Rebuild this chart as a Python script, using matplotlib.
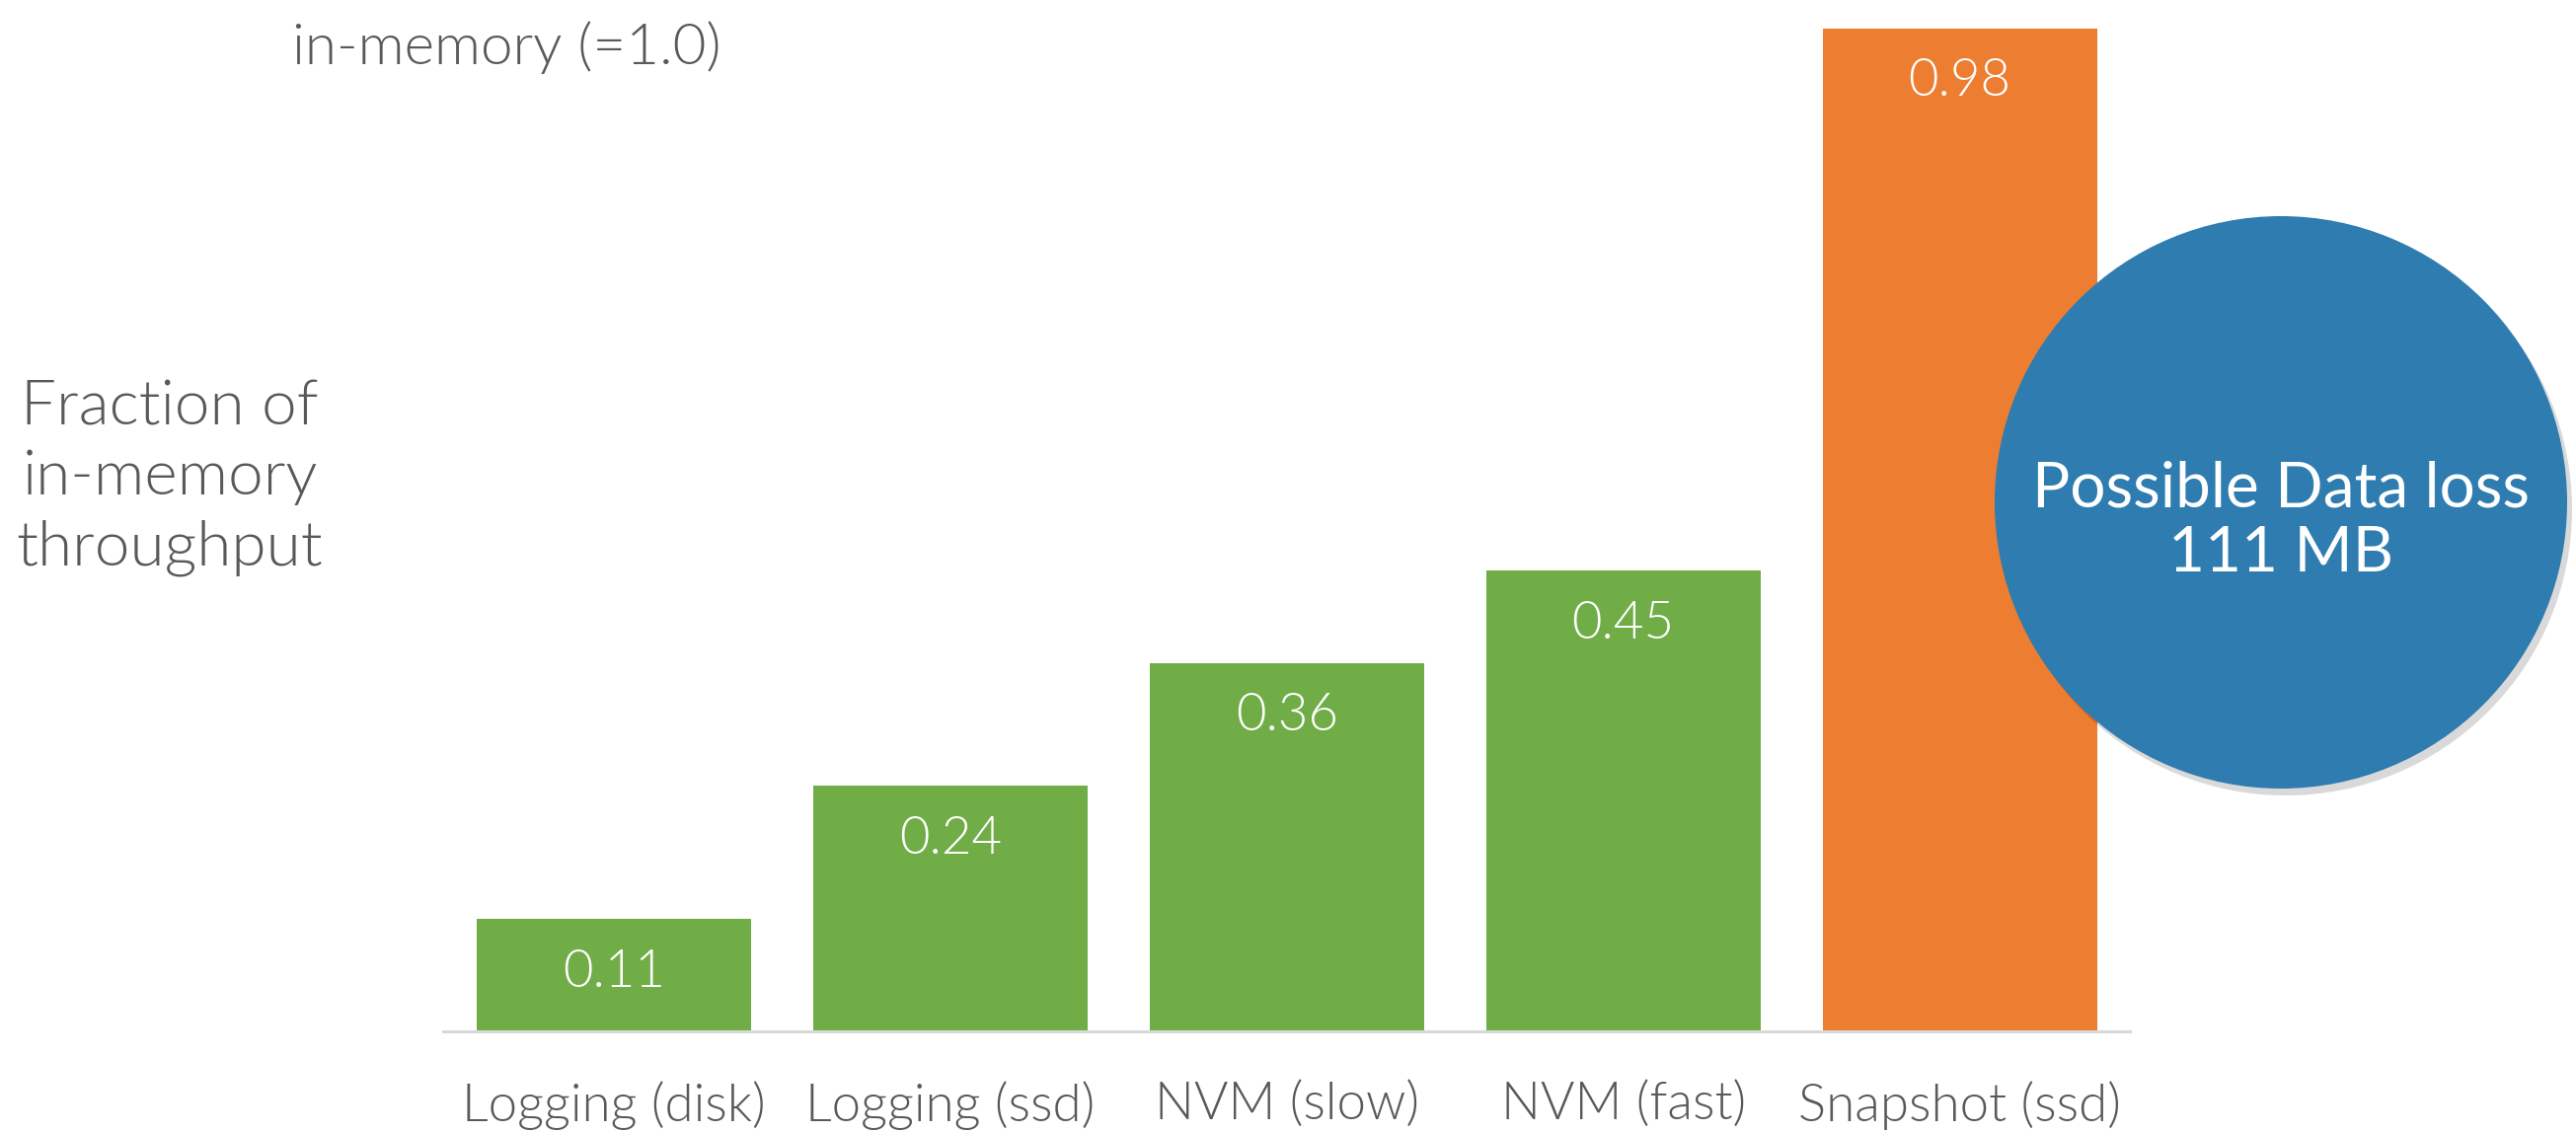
import matplotlib.pyplot as plt
from matplotlib.patches import Ellipse

# Bar data
categories = ['Logging (disk)', 'Logging (ssd)', 'NVM (slow)', 'NVM (fast)', 'Snapshot (ssd)']
values = [0.11, 0.24, 0.36, 0.45, 0.98]
bar_colors = ['#70AD47', '#70AD47', '#70AD47', '#70AD47', '#ED7D31']
value_labels = ['0.11', '0.24', '0.36', '0.45', '0.98']

plt.rcParams['font.family'] = ['Lato', 'DejaVu Sans']
text_gray = '#595959'
LIGHT = 300  # Lato-Light

fig = plt.figure(figsize=(26.1, 11.48), dpi=100)
ax = fig.add_axes([0.172, 0.0897, 0.655, 0.9103])

x = list(range(len(categories)))
ax.bar(x, values, width=0.815, color=bar_colors, zorder=2)

# values written inside the top of each bar
for xi, v, lab in zip(x, values, value_labels):
    ax.annotate(lab, (xi, v), xytext=(0, -39), textcoords='offset points',
                ha='center', va='center', color='white', fontsize=38,
                fontweight=LIGHT)

ax.set_xlim(-0.507, 4.507)
ax.set_ylim(0, 1.0077)
ax.set_xticks(x)
ax.set_xticklabels(categories, fontsize=38, color=text_gray, fontweight=LIGHT)
ax.tick_params(axis='x', length=0, pad=36)
ax.set_yticks([])
for s in ['top', 'right', 'left']:
    ax.spines[s].set_visible(False)
ax.spines['bottom'].set_color('#d9d9d9')
ax.spines['bottom'].set_linewidth(2.2)

# labels on the left
fig.text(296 / 2610, 1 - 48 / 1148, 'in-memory (=1.0)', fontsize=42, color=text_gray,
         fontweight=LIGHT, ha='left', va='center')
fig.text(172 / 2610, 1 - 484 / 1148, 'Fraction of\nin-memory\nthroughput', fontsize=46,
         color=text_gray, fontweight=LIGHT, ha='center', va='center',
         multialignment='center', linespacing=1.3)

# blue circle with a soft shadow
cx, cy, r = 2311, 509, 290
shadow = Ellipse(((cx + 5) / 2610, 1 - (cy + 7) / 1148), 2 * r / 2610, 2 * r / 1148,
                 transform=fig.transFigure, color='black', alpha=0.15, lw=0, zorder=5)
circle = Ellipse((cx / 2610, 1 - cy / 1148), 2 * r / 2610, 2 * r / 1148,
                 transform=fig.transFigure, color='#2E7CB0', lw=0, zorder=6)
fig.patches.extend([shadow, circle])
fig.text(cx / 2610, 1 - 528 / 1148, 'Possible Data loss\n111 MB', fontsize=46, color='white',
         ha='center', va='center', linespacing=1.15, zorder=7)

plt.savefig('out.png', dpi=100)
